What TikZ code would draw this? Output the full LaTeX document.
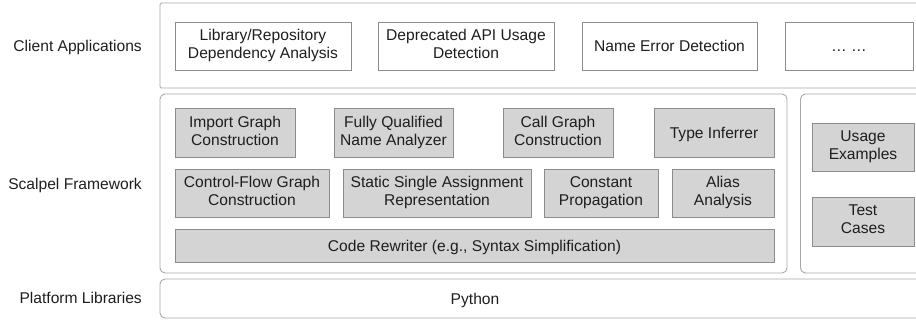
\documentclass[tikz,border=0pt]{standalone}
\usepackage{fontspec}
\setmainfont{Liberation Sans}
\definecolor{outline}{HTML}{A8A8A8}
\definecolor{boxline}{HTML}{8C8C8C}
\definecolor{graybox}{HTML}{D4D4D4}
\definecolor{txt}{HTML}{1E1E1E}
\newcommand{\mystrut}{\rule[-3.8pt]{0pt}{18.8pt}}
\begin{document}
\begin{tikzpicture}[x=1pt,y=-1pt,
  every node/.style={text=txt, font=\fontsize{15.6}{18}\selectfont, align=center, inner sep=0pt,
    execute at begin node=\mystrut, execute at end node=\mystrut},
  layer/.style={draw=outline, line width=0.9pt, rounded corners=5pt},
  wbox/.style={draw=boxline, line width=0.8pt, fill=white},
  gbox/.style={draw=boxline, line width=0.8pt, fill=graybox},
  lab/.style={anchor=east}]
\useasboundingbox (0,0) rectangle (916,320);
\clip (0,0) rectangle (916,320);
% layers
\draw[layer, rounded corners=1.5pt] (160,3) rectangle (930,88);
\draw[layer] (160,94) rectangle (787,273);
\draw[layer] (800.5,94) rectangle (930,273);
\draw[layer] (160,279) rectangle (930,318);
% labels
\node[lab] (lclient) at (142,46) {Client Applications};
\node[lab] (lscalpel) at (142,184) {Scalpel Framework};
\node[lab] (lplat) at (142,298) {Platform Libraries};
% client apps
\node[wbox, minimum width=176pt, minimum height=48pt] (lib) at (263,46) {Library/Repository\\Dependency Analysis};
\node[wbox, minimum width=176pt, minimum height=48pt] (dep) at (466,46) {Deprecated API Usage\\Detection};
\node[wbox, minimum width=175pt, minimum height=48pt] (nameerr) at (669.5,46) {Name Error Detection};
\node[wbox, minimum width=128pt, minimum height=48pt] (more) at (849,46) {\dots\ \dots};
% scalpel row 1
\node[gbox, minimum width=120pt, minimum height=49pt] (imp) at (235,132.5) {Import Graph\\Construction};
\node[gbox, minimum width=119pt, minimum height=49pt] (fqn) at (393.5,132.5) {Fully Qualified\\Name Analyzer};
\node[gbox, minimum width=110pt, minimum height=49pt] (cg) at (558,132.5) {Call Graph\\Construction};
\node[gbox, minimum width=120pt, minimum height=49pt] (ti) at (714,132.5) {Type Inferrer};
% scalpel row 2
\node[gbox, minimum width=154pt, minimum height=48pt] (cfg) at (252,193) {Control-Flow Graph\\Construction};
\node[gbox, minimum width=188pt, minimum height=48pt] (ssa) at (437,193) {Static Single Assignment\\Representation};
\node[gbox, minimum width=114pt, minimum height=48pt] (cp) at (601,193) {Constant\\Propagation};
\node[gbox, minimum width=102pt, minimum height=48pt] (alias) at (723,193) {Alias\\Analysis};
% code rewriter
\node[gbox, minimum width=599pt, minimum height=33pt] (cr) at (474.5,245.5) {Code Rewriter (e.g., Syntax Simplification)};
% right column
\node[gbox, minimum width=102pt, minimum height=48pt] (usage) at (863,147) {Usage\\Examples};
\node[gbox, minimum width=102pt, minimum height=49pt] (test) at (863,221.5) {Test\\Cases};
% python
\node (py) at (475,298.5) {Python};
\end{tikzpicture}
\end{document}
